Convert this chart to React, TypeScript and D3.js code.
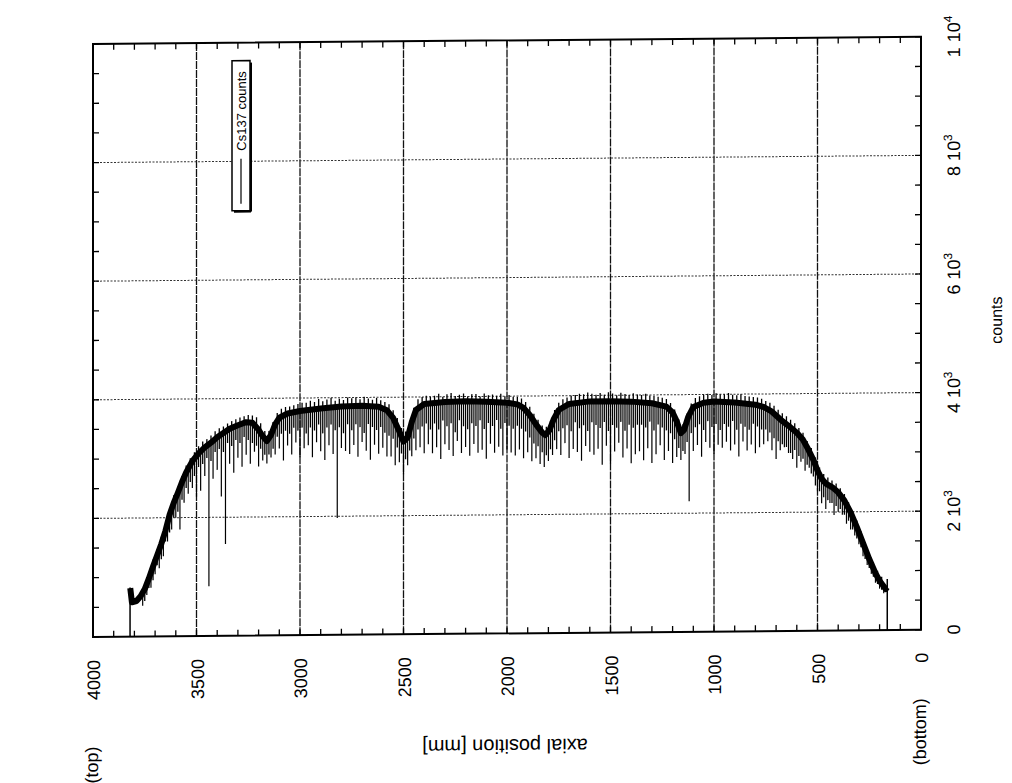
import React from "react";
import * as d3 from "d3";

// ---- data ----
const xTickValues = [4000, 3500, 3000, 2500, 2000, 1500, 1000, 500, 0];
const yTickValues = [0, 2000, 4000, 6000, 8000, 10000];
const yTickMantissa = ["0", "2", "4", "6", "8", "1"];
const yTickExponent = ["", "3", "3", "3", "3", "4"];

// dense band of the Cs137 trace (axial position mm, counts)
const bandMM = [3820, 3812, 3790, 3770, 3750, 3730, 3710, 3690, 3670, 3650, 3630, 3610, 3590, 3570, 3550, 3520, 3490, 3460, 3430, 3400, 3370, 3340, 3300, 3260, 3230, 3200, 3180, 3160, 3140, 3120, 3100, 3060, 3000, 2900, 2800, 2700, 2620, 2580, 2550, 2520, 2500, 2480, 2460, 2440, 2400, 2300, 2200, 2100, 2000, 1950, 1920, 1890, 1860, 1830, 1815, 1795, 1775, 1750, 1700, 1600, 1500, 1400, 1300, 1230, 1200, 1180, 1160, 1145, 1125, 1100, 1050, 1000, 900, 800, 760, 720, 680, 640, 600, 570, 545, 520, 500, 480, 460, 430, 400, 370, 340, 310, 280, 250, 220, 200, 185, 170, 164];
const bandCounts = [820, 580, 600, 680, 800, 980, 1180, 1370, 1560, 1780, 2050, 2250, 2420, 2600, 2760, 2950, 3080, 3180, 3260, 3350, 3420, 3490, 3550, 3600, 3590, 3470, 3360, 3280, 3380, 3560, 3670, 3740, 3780, 3820, 3850, 3860, 3840, 3780, 3650, 3420, 3250, 3320, 3580, 3780, 3880, 3910, 3920, 3910, 3890, 3860, 3800, 3680, 3520, 3380, 3340, 3420, 3600, 3760, 3860, 3900, 3900, 3890, 3860, 3800, 3700, 3550, 3350, 3400, 3620, 3790, 3860, 3880, 3860, 3820, 3780, 3700, 3570, 3460, 3340, 3220, 3060, 2880, 2700, 2560, 2480, 2420, 2330, 2190, 1990, 1740, 1470, 1200, 960, 830, 760, 690, 720];

// the thin vertical edges at both ends of the scan
const edgeMM = [3821, 163];
const edgeTop = [830, 860];

// deep downward spikes, one every 20 mm from 3760 mm to 180 mm: lowest count reached
const spikeStartMM = 3760;
const spikeStepMM = 20;
const spikeLow = [
  520, 700, 820, 1050, 1150, 1350, 1600, 1800, 2000, 1800,
  2250, 2400, 2500, 2350, 2450, 2700, 840, 2650, 2800, 2350,
  1550, 2900, 2750, 3000, 2850, 3050, 2900, 3100, 2850, 2950,
  2900, 3000, 3050, 3150, 2950, 3200, 3050, 3250, 3000, 3150,
  3200, 3000, 3250, 3100, 2950, 3200, 3050, 1970, 3150, 3100,
  3050, 3200, 3000, 3250, 3100, 2950, 3200, 3050, 3150, 3000,
  3000, 2850, 2900, 2700, 2850, 3000, 3100, 3150, 3050, 3200,
  3050, 3150, 2950, 3200, 3100, 3000, 3250, 3050, 3150, 3000,
  3200, 3050, 3100, 2950, 3200, 3050, 3150, 3000, 3100, 3050,
  3000, 3100, 2950, 3050, 2900, 2950, 2850, 2800, 2900, 3000,
  3100, 3000, 3200, 2950, 3100, 3050, 2900, 3150, 3050, 3000,
  3100, 2830, 3150, 2850, 3050, 3200, 2950, 3100, 2850, 3000,
  3050, 2900, 3100, 2850, 3000, 3150, 2900, 3050, 2850, 2950,
  2900, 3000, 2200, 3050, 3150, 2950, 3200, 3100, 3000, 3150,
  3100, 3200, 3050, 3150, 2950, 3200, 3050, 3150, 3000, 3100,
  3150, 3200, 3050, 2900, 3050, 3100, 3000, 2900, 2750, 2850,
  2700, 2750, 2600, 2350, 2150, 2050, 2150, 1950, 2000, 1950,
  1800, 1700, 1600, 1450, 1250, 1100, 950, 800, 700, 620,
];

// short fluctuations between the deep spikes, every 20 mm from 3750 mm to 190 mm
const fluctStartMM = 3750;
const fluctHigh = [
  880, 1080, 1300, 1470, 1680, 1880, 2150, 2380, 2520, 2700,
  2880, 3000, 3100, 3200, 3280, 3320, 3380, 3450, 3500, 3530,
  3580, 3620, 3650, 3680, 3700, 3720, 3710, 3680, 3580, 3450,
  3450, 3600, 3750, 3820, 3850, 3860, 3880, 3900, 3920, 3920,
  3950, 3930, 3980, 3940, 3970, 4000, 3950, 3980, 3960, 4000,
  3990, 4000, 3970, 4010, 3980, 3960, 3990, 3950, 3920, 3880,
  3780, 3650, 3480, 3420, 3600, 3820, 3960, 4000, 4020, 4000,
  4020, 4050, 4000, 4040, 4060, 4010, 4030, 4050, 4000, 4040,
  4040, 4000, 4050, 4020, 4030, 4010, 4040, 4000, 4020, 3990,
  3990, 3960, 3900, 3820, 3700, 3600, 3500, 3480, 3580, 3760,
  3880, 3940, 3970, 4000, 4010, 4030, 4020, 4050, 4030, 4010,
  4040, 4010, 4050, 4030, 4000, 4040, 4020, 4000, 4030, 4010,
  4000, 4020, 3990, 3980, 3970, 3950, 3930, 3860, 3750, 3580,
  3500, 3680, 3850, 3940, 3970, 4000, 4010, 3990, 4020, 4000,
  4000, 4020, 3990, 3980, 4000, 3970, 3960, 3950, 3940, 3920,
  3880, 3850, 3800, 3730, 3670, 3620, 3560, 3500, 3420, 3340,
  3200, 3080, 2920, 2750, 2640, 2580, 2530, 2480, 2400, 2300,
  2160, 2010, 1850, 1670, 1490, 1300, 1140, 1000, 900,
];
const fluctLow = [
  600, 820, 950, 1200, 1300, 1600, 1750, 2000, 2100, 2300,
  2500, 2600, 2700, 2850, 2900, 3000, 2950, 3100, 3150, 3100,
  3250, 3200, 3300, 3250, 3350, 3300, 3250, 3200, 3150, 3050,
  3050, 3150, 3350, 3400, 3450, 3400, 3500, 3450, 3500, 3400,
  3500, 3450, 3550, 3400, 3500, 3550, 3450, 3500, 3400, 3550,
  3450, 3550, 3500, 3400, 3550, 3500, 3450, 3500, 3400, 3350,
  3300, 3150, 3050, 2950, 3100, 3300, 3450, 3500, 3550, 3450,
  3550, 3450, 3600, 3500, 3550, 3400, 3600, 3500, 3450, 3550,
  3500, 3600, 3450, 3550, 3500, 3600, 3450, 3550, 3500, 3450,
  3500, 3450, 3400, 3300, 3200, 3150, 3050, 3000, 3100, 3250,
  3400, 3450, 3500, 3400, 3550, 3450, 3500, 3400, 3550, 3500,
  3450, 3550, 3400, 3500, 3450, 3550, 3400, 3500, 3450, 3500,
  3500, 3450, 3550, 3400, 3500, 3450, 3400, 3350, 3250, 3100,
  3050, 3200, 3350, 3450, 3500, 3400, 3550, 3450, 3500, 3400,
  3500, 3450, 3550, 3400, 3500, 3450, 3400, 3500, 3450, 3400,
  3400, 3350, 3250, 3200, 3150, 3100, 3000, 3050, 2950, 2900,
  2800, 2650, 2450, 2350, 2250, 2200, 2150, 2100, 2050, 1950,
  1850, 1700, 1550, 1400, 1200, 1050, 900, 780, 680,
];

const legendLabel = "Cs137 counts";

// ---- layout ----
const W = 1012;
const H = 783;
const L = 93;
const R = 921;
const T = 44;
const B = 637;

export default function App() {
  const x = d3.scaleLinear().domain([4000, 0]).range([L, R]);
  const y = d3.scaleLinear().domain([0, 10000]).range([B, T]);
  const band = d3.scaleLinear().domain(bandMM).range(bandCounts);

  const bandPath =
    d3
      .line<number>()
      .x((_, i) => x(bandMM[i]))
      .y((d) => y(d))(bandCounts) || "";

  const xMinor = d3.range(4000, -1, -100);
  const yMinor = d3.range(0, 10001, 500);
  const font = "'Liberation Sans', Arial, Helvetica, sans-serif";

  const spikes = spikeLow.map((low, i) => {
    const mm = spikeStartMM - i * spikeStepMM;
    return { mm, top: band(mm), low };
  });
  const flucts = fluctLow.map((low, i) => ({
    mm: fluctStartMM - i * spikeStepMM,
    high: fluctHigh[i],
    low,
  }));

  return (
    <svg
      width={W}
      height={H}
      style={{ position: "absolute", left: 0, top: 0, background: "#fff" }}
      fontFamily={font}
    >
      <rect width={W} height={H} fill="#fff" />
      <g transform={`translate(${L},0) skewY(-0.5) translate(${-L},0)`}>
        {/* grid */}
        {xTickValues.slice(1, -1).map((v) => (
          <line
            key={"gx" + v}
            x1={x(v)}
            x2={x(v)}
            y1={T}
            y2={B}
            stroke="#111"
            strokeWidth={1.3}
            strokeDasharray="8 1"
          />
        ))}
        {yTickValues.slice(1, -1).map((v) => (
          <line
            key={"gy" + v}
            x1={L}
            x2={R}
            y1={y(v)}
            y2={y(v)}
            stroke="#333"
            strokeWidth={1}
            strokeDasharray="2 1.5"
          />
        ))}
        {/* minor ticks */}
        {xMinor.map((v) => (
          <g key={"tx" + v}>
            <line x1={x(v)} x2={x(v)} y1={B} y2={B - 6} stroke="#000" strokeWidth={1.3} />
            <line x1={x(v)} x2={x(v)} y1={T} y2={T + 6} stroke="#000" strokeWidth={1.3} />
          </g>
        ))}
        {yMinor.map((v) => (
          <g key={"ty" + v}>
            <line x1={L} x2={L + 6} y1={y(v)} y2={y(v)} stroke="#000" strokeWidth={1.3} />
            <line x1={R} x2={R - 6} y1={y(v)} y2={y(v)} stroke="#000" strokeWidth={1.3} />
          </g>
        ))}

        {/* data: deep spikes */}
        {spikes.map((s, i) => (
          <line
            key={"sp" + i}
            x1={x(s.mm)}
            x2={x(s.mm)}
            y1={y(s.top)}
            y2={y(s.low)}
            stroke="#000"
            strokeWidth={1.2}
          />
        ))}
        {/* data: short fluctuations */}
        {flucts.map((s, i) => (
          <line
            key={"fl" + i}
            x1={x(s.mm)}
            x2={x(s.mm)}
            y1={y(s.high)}
            y2={y(s.low)}
            stroke="#000"
            strokeWidth={1.3}
          />
        ))}
        {/* data: dense band */}
        <path d={bandPath} fill="none" stroke="#000" strokeWidth={6} strokeLinejoin="round" />
        {edgeMM.map((mm, i) => (
          <line
            key={"edge" + i}
            x1={x(mm)}
            x2={x(mm)}
            y1={y(0)}
            y2={y(edgeTop[i])}
            stroke="#000"
            strokeWidth={1.5}
          />
        ))}

        {/* frame */}
        <rect x={L} y={T} width={R - L} height={B - T} fill="none" stroke="#000" strokeWidth={2} />

        {/* x tick labels */}
        {xTickValues.map((v) => (
          <text
            key={"lx" + v}
            transform={`translate(${x(v) + 7},${B + 23}) rotate(-90)`}
            textAnchor="end"
            fontSize={18}
          >
            {v}
          </text>
        ))}
        {/* y tick labels */}
        {yTickValues.map((v, i) => (
          <text
            key={"ly" + v}
            transform={`translate(${R + 39},${y(v)}) rotate(-90)`}
            textAnchor="middle"
            fontSize={18}
          >
            {yTickMantissa[i]}
            {yTickExponent[i] ? " 10" : ""}
            {yTickExponent[i] ? (
              <tspan fontSize={12} dy={-8}>
                {yTickExponent[i]}
              </tspan>
            ) : null}
          </text>
        ))}

        <text transform={`translate(${R + 81},328) rotate(-90)`} textAnchor="middle" fontSize={16}>
          counts
        </text>
        <text transform={`translate(${L + 5},765) rotate(-90)`} textAnchor="middle" fontSize={18}>
          (top)
        </text>
        <text transform={`translate(${R + 5},739) rotate(-90)`} textAnchor="middle" fontSize={18}>
          (bottom)
        </text>
        <text transform={`translate(505,743) rotate(180)`} textAnchor="middle" fontSize={20}>
          axial position [mm]
        </text>

        {/* legend */}
        <g>
          <rect x={232} y={62} width={18} height={150} fill="#fff" stroke="#000" strokeWidth={1.5} />
          <line x1={251} x2={251} y1={64} y2={213} stroke="#000" strokeWidth={2} />
          <line x1={234} x2={251} y1={213} y2={213} stroke="#000" strokeWidth={2} />
          <text transform={`translate(246,152) rotate(-90)`} textAnchor="start" fontSize={13}>
            {legendLabel}
          </text>
          <line x1={241} x2={241} y1={160} y2={205} stroke="#000" strokeWidth={1.2} />
        </g>
      </g>
    </svg>
  );
}
